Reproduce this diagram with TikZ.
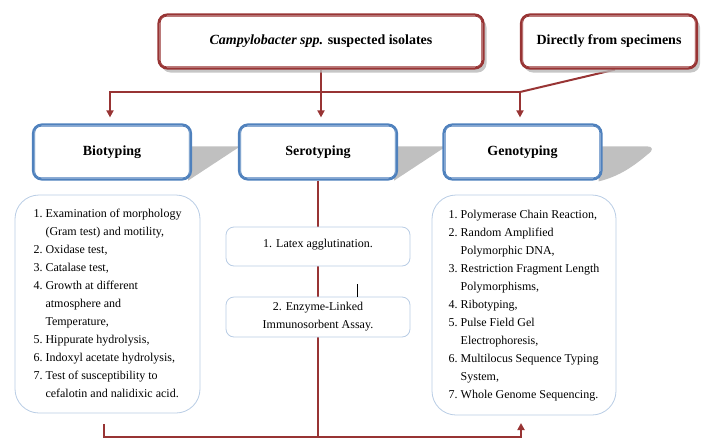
\documentclass[tikz,border=0pt]{standalone}
\usepackage{fontspec}
\setmainfont{Liberation Serif}
\usetikzlibrary{calc,shadows,arrows.meta}
\pgfdeclarelayer{background}
\pgfsetlayers{background,main}
\definecolor{dred}{RGB}{152,52,52}
\definecolor{mblue}{RGB}{79,129,189}
\definecolor{lblue}{RGB}{185,205,229}
\definecolor{wedgegray}{RGB}{192,192,192}
\tikzset{
  topbox/.style={draw=dred, line width=2.2pt, rounded corners=9pt, fill=white,
    font=\fontsize{14}{16}\selectfont\bfseries, align=center,
    drop shadow={shadow xshift=3pt, shadow yshift=-4pt, fill=black!28, opacity=.8}},
  midbox/.style={draw=mblue, line width=2.2pt, rounded corners=9pt, fill=white,
    font=\fontsize{14}{16}\selectfont\bfseries, align=center,
    minimum width=158pt, minimum height=55pt},
  innerline/.style={line width=0.8pt, rounded corners=6.5pt},
  listbox/.style={draw=lblue, line width=0.8pt, rounded corners=24pt, fill=white,
    font=\fontsize{12}{18}\selectfont, align=left, inner sep=0pt},
  serobox/.style={draw=lblue, line width=0.8pt, rounded corners=8pt, fill=white,
    font=\fontsize{12}{18}\selectfont, align=center, inner sep=0pt,
    minimum width=184pt},
  redline/.style={draw=dred, line width=2pt},
  arr/.style={redline, -{Triangle[width=7pt,length=7pt]}},
  wedge/.style={fill=wedgegray, draw=none}
}
\begin{document}
\begin{tikzpicture}[x=1pt,y=-1pt]
\useasboundingbox (0,0) rectangle (702,440);

% top boxes
\node[topbox, minimum width=325pt, minimum height=54pt] (camp) at (321,41.5)
  {{\itshape Campylobacter spp.} suspected isolates};
\node[topbox, minimum width=176pt, minimum height=54pt] (direct) at (609,41.5)
  {Directly from specimens};

% middle boxes
\node[midbox] (bio)  at (112,152)   {Biotyping};
\node[midbox] (sero) at (318,152)   {Serotyping};
\node[midbox] (geno) at (522.5,152) {Genotyping};

% inner lines of the double borders
\foreach \n in {camp,direct}
  \draw[innerline, dred] ([shift={(2.8pt,-2.8pt)}]\n.north west) rectangle ([shift={(-2.8pt,2.8pt)}]\n.south east);
\foreach \n in {bio,sero,geno}
  \draw[innerline, mblue] ([shift={(2.8pt,-2.8pt)}]\n.north west) rectangle ([shift={(-2.8pt,2.8pt)}]\n.south east);

% list boxes
\node[listbox, minimum width=185pt, minimum height=218pt] (biolist) at (107.5,304)
 {\begin{tabular}{@{}l@{\hspace{3pt}}l@{}}
  1. & Examination of morphology\\
     & (Gram test) and motility,\\
  2. & Oxidase test,\\
  3. & Catalase test,\\
  4. & Growth at different\\
     & atmosphere and\\
     & Temperature,\\
  5. & Hippurate hydrolysis,\\
  6. & Indoxyl acetate hydrolysis,\\
  7. & Test of susceptibility to\\
     & cefalotin and nalidixic acid.
  \end{tabular}};
\node[listbox, minimum width=184pt, minimum height=220pt] (genolist) at (524,305)
 {\begin{tabular}{@{}l@{\hspace{3pt}}l@{}}
  1. & Polymerase Chain Reaction,\\
  2. & Random Amplified\\
     & Polymorphic DNA,\\
  3. & Restriction Fragment Length\\
     & Polymorphisms,\\
  4. & Ribotyping,\\
  5. & Pulse Field Gel\\
     & Electrophoresis,\\
  6. & Multilocus Sequence Typing\\
     & System,\\
  7. & Whole Genome Sequencing.
  \end{tabular}};

% serotyping boxes
\node[serobox, minimum height=39pt, text height=8pt, text depth=7pt] (latex) at (318,246.5)
  {1. Latex agglutination.};
\node[serobox, minimum height=40pt] (elisa) at (318,317)
  {2. Enzyme-Linked\\Immunosorbent Assay.};

% small stray tick
\coordinate (tick) at (357,284);
\draw[black, line width=0.6pt] (tick) -- (tick |- elisa.north);

\begin{pgfonlayer}{background}
  % wedge shadows
  \fill[wedge] ($(bio.north east)+(-4,23)$) -- ++(52,0)
     -- ($(bio.south east)+(-4,0)$) -- cycle;
  \fill[wedge] ($(sero.north east)+(-4,23)$) -- ++(52,0)
     -- ($(sero.south east)+(-4,0)$) -- cycle;
  \fill[wedge] ($(geno.north east)+(-4,23)$) -- ++(48,0)
     .. controls ($(geno.north east)+(51,23)$) and ($(geno.north east)+(51,27)$) .. ($(geno.north east)+(45,31)$)
     .. controls ($(geno.north east)+(32,42)$) and ($(geno.north east)+(17,53)$) .. ($(geno.north east)+(-4,58)$)
     -- cycle;

  % top connectors
  \coordinate (hub) at (321,92);
  \coordinate (hubL) at (110,92);
  \coordinate (hubR) at (520,92);
  \draw[arr] (camp.south) -- ([yshift=6pt]camp.south |- sero.north);
  \draw[arr] (hub) -- (hubL) -- ([yshift=6pt]hubL |- bio.north);
  \draw[arr] (hub) -- (hubR) -- ([yshift=6pt]hubR |- geno.north);
  \draw[redline] ([xshift=6pt]direct.south) -- (hubR);

  % bottom connectors
  \coordinate (bl) at (104,437);
  \coordinate (br) at (521,437);
  \coordinate (blt) at (104,424);
  \coordinate (brt) at (521,423);
  \draw[redline] (sero.south) -- (sero.south |- bl);
  \draw[arr] (blt) -- (bl) -- (br) -- (brt);
\end{pgfonlayer}
\end{tikzpicture}
\end{document}
